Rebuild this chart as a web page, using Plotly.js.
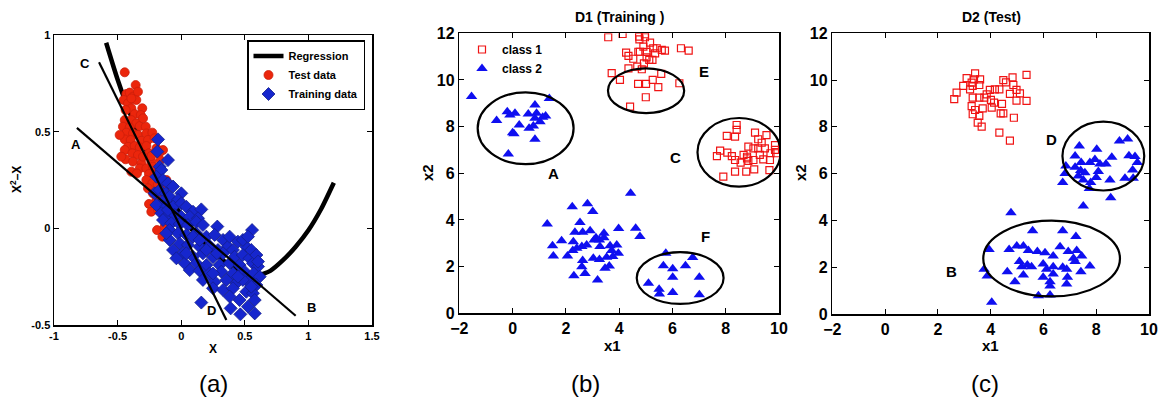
<!DOCTYPE html>
<html>
<head>
<meta charset="utf-8">
<script src="https://cdn.plot.ly/plotly-3.0.1.min.js"></script>
<style>html,body{margin:0;padding:0;background:#fff;}#chart{width:1161px;height:407px;}</style>
</head>
<body>
<div id="chart"></div>
<script>
// ---------- Panel (a) ----------
const regX = [-0.59, -0.5, -0.4, -0.3, -0.2, -0.1, 0.0, 0.1, 0.2, 0.3, 0.4, 0.5, 0.6, 0.7, 0.8, 0.9, 1.0, 1.1, 1.2];
const regY = [0.96, 0.77, 0.59, 0.44, 0.30, 0.17, 0.07, -0.02, -0.09, -0.15, -0.20, -0.235, -0.245, -0.22, -0.165, -0.095, -0.01, 0.10, 0.236];
const lineAX = [-0.82, 0.9];
const lineAY = [0.52, -0.452];
const lineCX = [-0.646, 0.355];
const lineCY = [0.859, -0.474];
const testX = [-0.444,-0.358,-0.431,-0.405,-0.379,-0.452,-0.418,-0.353,-0.392,-0.306,-0.437,-0.366,-0.318,-0.444,-0.392,-0.353,-0.458,-0.405,-0.326,-0.279,-0.431,-0.379,-0.340,-0.274,-0.227,-0.444,-0.397,-0.313,-0.261,-0.209,-0.418,-0.366,-0.326,-0.274,-0.195,-0.143,-0.444,-0.384,-0.340,-0.253,-0.174,-0.437,-0.379,-0.313,-0.235,-0.326,-0.274,-0.222,-0.392,-0.348,-0.253,-0.209,-0.169,-0.117,-0.274,-0.227,-0.185,-0.261,-0.130,-0.222,-0.169,-0.195,-0.253,-0.235,-0.182,-0.143,-0.190,-0.148,-0.130,-0.104,-0.484,-0.471,-0.300,-0.340,-0.392,-0.164,-0.235,-0.300];
const testY = [0.807,0.741,0.695,0.702,0.681,0.664,0.647,0.664,0.621,0.621,0.612,0.591,0.586,0.560,0.560,0.543,0.526,0.522,0.529,0.526,0.495,0.491,0.483,0.491,0.495,0.460,0.457,0.453,0.457,0.466,0.422,0.426,0.419,0.426,0.414,0.405,0.405,0.388,0.379,0.388,0.388,0.357,0.345,0.336,0.345,0.310,0.310,0.319,0.293,0.284,0.281,0.276,0.302,0.250,0.250,0.233,0.224,0.207,0.207,0.181,0.181,0.147,0.126,0.086,0.095,0.112,-0.009,-0.043,0.009,0.043,0.483,0.371,0.569,0.707,0.672,0.353,0.374,0.371];
const trainX = [-0.182,-0.188,-0.104,-0.169,-0.156,-0.195,-0.143,-0.104,-0.064,0.001,-0.209,-0.169,-0.122,-0.091,-0.025,-0.148,-0.195,-0.117,-0.064,0.001,0.040,0.093,0.158,-0.156,-0.117,-0.051,0.001,0.067,0.132,-0.143,-0.078,-0.012,0.053,0.119,0.171,0.284,0.557,-0.091,-0.025,0.040,0.119,0.198,0.263,0.329,-0.091,-0.012,0.053,0.145,0.224,0.289,0.368,0.407,0.512,-0.064,0.014,0.093,0.171,0.250,0.329,0.420,0.485,0.538,-0.038,0.027,0.119,0.198,0.302,0.381,0.459,0.564,0.604,0.067,0.145,0.224,0.316,0.407,0.499,0.570,0.617,0.171,0.263,0.355,0.433,0.525,0.591,0.250,0.329,0.407,0.512,0.564,0.381,0.459,0.578,0.525,0.158,0.389,0.465,0.578,0.281,0.198,0.093,0.145,0.381,0.446,0.485,0.525,0.551,0.591,0.604,0.485,0.551,0.446,0.250,0.040,-0.117,-0.104];
const trainY = [0.460,0.397,0.353,0.319,0.302,0.267,0.250,0.233,0.216,0.181,0.181,0.198,0.181,0.164,0.147,0.138,0.121,0.112,0.112,0.129,0.112,0.086,0.098,0.078,0.060,0.069,0.060,0.060,0.052,0.043,0.026,0.022,0.017,0.034,0.017,0.009,-0.009,-0.009,-0.026,-0.034,-0.026,-0.043,-0.034,-0.060,-0.060,-0.078,-0.086,-0.095,-0.091,-0.112,-0.095,-0.112,-0.095,-0.112,-0.129,-0.147,-0.129,-0.150,-0.129,-0.147,-0.138,-0.155,-0.155,-0.181,-0.181,-0.190,-0.190,-0.181,-0.190,-0.181,-0.198,-0.216,-0.219,-0.233,-0.224,-0.233,-0.224,-0.233,-0.250,-0.267,-0.276,-0.267,-0.284,-0.276,-0.293,-0.310,-0.319,-0.310,-0.328,-0.336,-0.353,-0.371,-0.371,-0.405,-0.384,-0.414,-0.445,-0.440,-0.129,-0.112,-0.043,-0.060,-0.043,-0.069,-0.060,-0.043,-0.112,-0.138,-0.172,-0.267,-0.302,-0.250,-0.233,-0.129,-0.026,0.095];
const aLabels = ['A', 'B', 'C', 'D'];
const aLabelX = [-0.824, 1.023, -0.759, 0.242];
const aLabelY = [0.436, -0.409, 0.853, -0.426];
const aTickVals = [-1, -0.5, 0, 0.5, 1, 1.5];
const aTickText = ['-1', '-0.5', '0', '0.5', '1', '1.5'];
const aYTickVals = [-0.5, 0, 0.5, 1];
const aYTickText = ['-0.5', '0', '0.5', '1'];

// ---------- Panel (b) D1 (Training) ----------
const b1X = [3.59,4.13,4.75,4.97,4.97,4.76,5.16,4.91,5.28,5.41,5.60,5.72,6.32,6.61,4.26,4.35,4.53,4.72,4.78,5.03,5.13,5.25,4.93,4.68,4.85,4.35,3.72,4.03,5.26,5.58,4.71,5.01,5.47,6.26,5.00,4.41,5.35,5.03,
  8.41,8.41,8.04,8.35,9.10,9.53,9.22,9.35,9.85,8.85,9.04,9.22,9.47,9.85,7.79,8.06,7.67,8.23,8.67,8.80,9.28,9.68,8.35,8.56,8.85,9.04,9.41,9.66,8.80,8.35,8.77,9.07,9.64,7.91,9.89];
const b1Y = [11.83,11.97,11.86,11.96,11.83,11.74,11.60,11.43,11.36,11.36,11.29,11.26,11.36,11.26,11.17,11.03,10.91,11.21,11.21,10.97,10.86,10.86,10.71,10.57,10.46,10.50,10.29,10.00,10.00,10.26,9.83,9.83,9.69,9.86,9.26,8.86,11.14,11.20,
  8.07,7.86,7.60,7.57,7.74,7.64,7.46,7.31,7.21,7.14,7.07,7.07,7.07,7.00,6.97,6.89,6.74,6.74,6.79,6.71,6.79,6.86,6.57,6.46,6.53,6.57,6.60,6.57,6.64,6.07,6.07,6.17,6.14,5.86,6.86];
const b2X = [-1.54,1.38,-0.60,-0.20,-0.10,0.09,0.59,0.84,0.90,0.84,1.03,1.24,1.13,0.25,0.00,0.05,0.62,0.78,0.84,-0.16,
  4.43,2.24,2.81,3.01,1.30,2.53,4.62,4.78,3.98,3.43,2.91,2.63,2.34,1.84,1.50,1.53,2.06,2.26,2.41,2.60,2.78,3.06,3.26,3.13,3.43,3.66,3.91,3.72,3.97,3.53,3.76,3.03,3.26,2.63,2.60,2.72,2.30,3.19,3.47,3.63,2.28,3.28,
  5.75,5.66,6.01,6.49,6.76,6.01,7.01,5.10,5.50,5.51,6.01,7.01];
const b2Y = [9.29,9.21,8.26,8.64,8.50,8.57,8.54,8.93,8.57,8.36,8.21,8.46,8.40,8.07,7.74,7.69,7.93,8.03,7.46,6.83,
  5.14,4.57,4.69,4.36,3.83,3.89,3.64,3.29,3.63,3.43,3.54,3.47,3.47,3.11,2.89,2.46,2.46,2.69,2.79,2.86,2.93,3.14,3.14,3.24,3.24,2.89,2.93,2.69,2.57,2.40,2.43,2.36,2.31,2.26,2.00,1.71,1.61,1.43,1.93,2.03,3.07,2.86,
  2.57,2.04,1.91,2.04,2.39,1.54,1.54,1.29,1.03,0.83,0.89,0.79];
const bEllCx = [0.49, 5.01, 8.50, 6.29];
const bEllCy = [7.93, 9.54, 6.90, 1.51];
const bEllRx = [1.80, 1.43, 1.56, 1.63];
const bEllRy = [1.54, 0.96, 1.47, 1.11];
const bLabels = ['A', 'E', 'C', 'F'];
const bLabelX = [1.53, 7.20, 6.12, 7.25];
const bLabelY = [6.00, 10.36, 6.69, 3.29];

// ---------- Panel (c) D2 (Test) ----------
const c1X = [2.62,2.71,2.96,3.09,3.28,3.41,3.22,3.37,3.60,3.57,3.32,3.28,3.32,3.41,3.57,3.51,3.66,3.70,3.76,3.85,3.97,4.16,4.33,4.01,4.04,4.13,3.57,4.48,4.58,4.73,4.86,4.98,5.11,4.98,4.83,5.36,5.36,4.88,4.43,4.38,4.48,4.33,4.73,3.32];
const c1Y = [9.19,9.46,9.75,10.08,9.89,10.29,9.60,10.03,10.03,9.79,9.25,8.89,8.54,8.72,8.47,8.18,8.01,8.79,9.25,9.39,9.58,9.60,9.60,9.15,8.82,9.04,9.25,10.00,9.90,9.41,9.79,9.58,9.43,9.12,10.12,10.22,9.11,8.39,8.98,8.58,8.58,7.75,7.41,9.75];
const c2X = [8.88,9.19,7.36,8.02,7.20,8.59,7.43,7.76,7.95,8.14,8.37,9.24,9.47,9.56,6.85,7.20,7.41,7.57,6.82,7.32,7.51,8.08,8.00,7.79,7.74,8.52,9.09,9.38,6.73,8.55,7.51,9.40,
  4.77,5.59,6.73,7.23,3.94,4.70,4.99,5.24,5.43,5.77,6.06,6.37,6.63,6.94,7.26,7.45,7.14,5.09,5.18,5.55,5.99,6.12,6.37,6.73,6.88,3.75,3.87,4.63,5.24,5.99,6.37,6.91,7.42,7.76,4.92,6.25,6.25,6.88,5.81,6.25,4.04,5.39,7.20];
const c2Y = [7.40,7.48,7.18,7.04,6.75,6.70,6.48,6.48,6.61,6.41,6.41,6.77,6.73,6.48,6.33,6.27,6.13,6.04,6.01,5.90,5.73,6.09,5.84,5.62,5.37,5.73,5.80,6.16,5.62,4.97,4.62,5.80,
  4.33,3.56,3.56,3.31,2.76,2.76,2.91,2.91,2.71,2.67,2.62,2.48,2.88,2.67,2.71,2.48,2.38,2.24,2.02,2.02,2.14,1.91,2.02,2.00,1.91,1.91,1.62,1.81,1.67,1.57,1.71,1.57,1.81,2.05,1.38,1.38,1.20,1.28,0.78,0.81,0.50,2.10,2.24];
const cEllCx = [8.27, 6.31];
const cEllCy = [6.75, 2.37];
const cEllRx = [1.55, 2.59];
const cEllRy = [1.47, 1.62];
const cLabels = ['D', 'B'];
const cLabelX = [6.31, 2.52];
const cLabelY = [7.44, 1.81];
const bcTickVals = [-2, 0, 2, 4, 6, 8, 10];
const bcYTickVals = [0, 2, 4, 6, 8, 10, 12];

const FONT = 'Liberation Sans, Arial, Helvetica, sans-serif';
const RED = 'rgb(235,38,12)';
const BLUE = 'rgb(22,38,205)';

const traces = [
  {x: regX, y: regY, mode: 'lines', name: 'Regression', line: {color: '#000', width: 4.5, shape: 'spline', smoothing: 0.6}, xaxis: 'x', yaxis: 'y', legend: 'legend'},
  {x: testX, y: testY, mode: 'markers', name: 'Test data', marker: {symbol: 'circle', size: 9, color: RED, line: {color: 'rgb(205,30,10)', width: 0.8}}, xaxis: 'x', yaxis: 'y', legend: 'legend'},
  {x: trainX, y: trainY, mode: 'markers', name: 'Training data', marker: {symbol: 'diamond', size: 10, color: BLUE, line: {color: 'rgb(20,30,140)', width: 0.8}}, xaxis: 'x', yaxis: 'y', legend: 'legend'},
  {x: lineAX, y: lineAY, mode: 'lines', showlegend: false, line: {color: '#000', width: 2.2}, xaxis: 'x', yaxis: 'y'},
  {x: lineCX, y: lineCY, mode: 'lines', showlegend: false, line: {color: '#000', width: 2.2}, xaxis: 'x', yaxis: 'y'},
  {x: b1X, y: b1Y, mode: 'markers', name: 'class 1', marker: {symbol: 'square-open', size: 7, color: 'rgb(240,20,20)', line: {width: 1.2}}, xaxis: 'x2', yaxis: 'y2', legend: 'legend2'},
  {x: b2X, y: b2Y, mode: 'markers', name: 'class 2', marker: {symbol: 'triangle-up', size: 10, color: 'rgb(15,15,240)'}, xaxis: 'x2', yaxis: 'y2', legend: 'legend2'},
  {x: c1X, y: c1Y, mode: 'markers', showlegend: false, marker: {symbol: 'square-open', size: 7, color: 'rgb(240,20,20)', line: {width: 1.2}}, xaxis: 'x3', yaxis: 'y3'},
  {x: c2X, y: c2Y, mode: 'markers', showlegend: false, marker: {symbol: 'triangle-up', size: 10, color: 'rgb(15,15,240)'}, xaxis: 'x3', yaxis: 'y3'}
];

const shapes = [];
bEllCx.forEach((cx, i) => shapes.push({type: 'circle', xref: 'x2', yref: 'y2', x0: cx - bEllRx[i], x1: cx + bEllRx[i], y0: bEllCy[i] - bEllRy[i], y1: bEllCy[i] + bEllRy[i], line: {color: '#000', width: 2.2}}));
cEllCx.forEach((cx, i) => shapes.push({type: 'circle', xref: 'x3', yref: 'y3', x0: cx - cEllRx[i], x1: cx + cEllRx[i], y0: cEllCy[i] - cEllRy[i], y1: cEllCy[i] + cEllRy[i], line: {color: '#000', width: 2.2}}));

const annotations = [];
const lab = (t, x, y, xr, yr, size) => annotations.push({text: t, x: x, y: y, xref: xr, yref: yr, xanchor: 'center', yanchor: 'middle', showarrow: false, font: {family: FONT, size: size, color: '#000', weight: 'bold'}});
aLabels.forEach((t, i) => lab(t, aLabelX[i], aLabelY[i], 'x', 'y', 13));
bLabels.forEach((t, i) => lab(t, bLabelX[i], bLabelY[i], 'x2', 'y2', 15));
cLabels.forEach((t, i) => lab(t, cLabelX[i], cLabelY[i], 'x3', 'y3', 15));
// titles and axis titles (paper coords)
const P = (t, xp, yp, size, bold, angle) => annotations.push({text: t, x: xp / 1161, y: 1 - yp / 407, xref: 'paper', yref: 'paper', xanchor: 'center', yanchor: 'middle', showarrow: false, textangle: angle || 0, font: {family: FONT, size: size, color: '#000', weight: bold ? 'bold' : 'normal'}});
P('D1 (Training )', 619, 17, 14, true);
P('D2 (Test)', 991, 17, 14, true);
P('X', 213, 349, 12, true);
P('X<sup>2</sup>\u2013X', 16, 180, 12, true, -90);
P('x1', 612, 345, 15, true);
P('x2', 427, 173, 15, true, -90);
P('x1', 990, 345, 15, true);
P('x2', 800, 173, 15, true, -90);
P('(a)', 213, 383, 24, false);
P('(b)', 585, 383, 24, false);
P('(c)', 985, 383, 24, false);

const axisBase = {showline: true, linecolor: '#000', linewidth: 1.5, mirror: 'ticks', ticks: 'inside', ticklen: 5, tickcolor: '#000', tickwidth: 1, showgrid: false, zeroline: false};
const bcX = (dom, anchor) => Object.assign({}, axisBase, {domain: dom, anchor: anchor, range: [-2, 10], tickvals: bcTickVals, tickfont: {family: FONT, size: 16, color: '#000', weight: 'bold'}});
const bcY = (dom, anchor) => Object.assign({}, axisBase, {domain: dom, anchor: anchor, range: [0, 12], tickvals: bcYTickVals, tickfont: {family: FONT, size: 16, color: '#000', weight: 'bold'}});

const layout = {
  width: 1161, height: 407,
  margin: {l: 0, r: 0, t: 0, b: 0},
  paper_bgcolor: '#fff', plot_bgcolor: '#fff',
  font: {family: FONT, color: '#000'},
  xaxis: Object.assign({}, axisBase, {domain: [54/1161, 372/1161], anchor: 'y', range: [-1, 1.5], tickvals: aTickVals, ticktext: aTickText, tickfont: {family: FONT, size: 11, color: '#000', weight: 'bold'}}),
  yaxis: Object.assign({}, axisBase, {domain: [82/407, 372/407], anchor: 'x', range: [-0.5, 1], tickvals: aYTickVals, ticktext: aYTickText, tickfont: {family: FONT, size: 11, color: '#000', weight: 'bold'}}),
  xaxis2: bcX([459.3/1161, 779/1161], 'y2'),
  yaxis2: bcY([93.7/407, 373.7/407], 'x2'),
  xaxis3: bcX([832.3/1161, 1149/1161], 'y3'),
  yaxis3: bcY([93/407, 373.7/407], 'x3'),
  legend: {x: 247/1161, y: 1 - 40/407, xanchor: 'left', yanchor: 'top', bgcolor: '#fff', bordercolor: '#000', borderwidth: 1.5, font: {family: FONT, size: 11, color: '#000', weight: 'bold'}, itemwidth: 30, tracegroupgap: 0},
  legend2: {x: 462/1161, y: 1 - 35/407, xanchor: 'left', yanchor: 'top', bgcolor: 'rgba(0,0,0,0)', borderwidth: 0, font: {family: FONT, size: 12, color: '#000', weight: 'bold'}, itemwidth: 30},
  shapes: shapes,
  annotations: annotations,
  showlegend: true
};

Plotly.newPlot('chart', traces, layout, {staticPlot: true, displayModeBar: false});
</script>
</body>
</html>
